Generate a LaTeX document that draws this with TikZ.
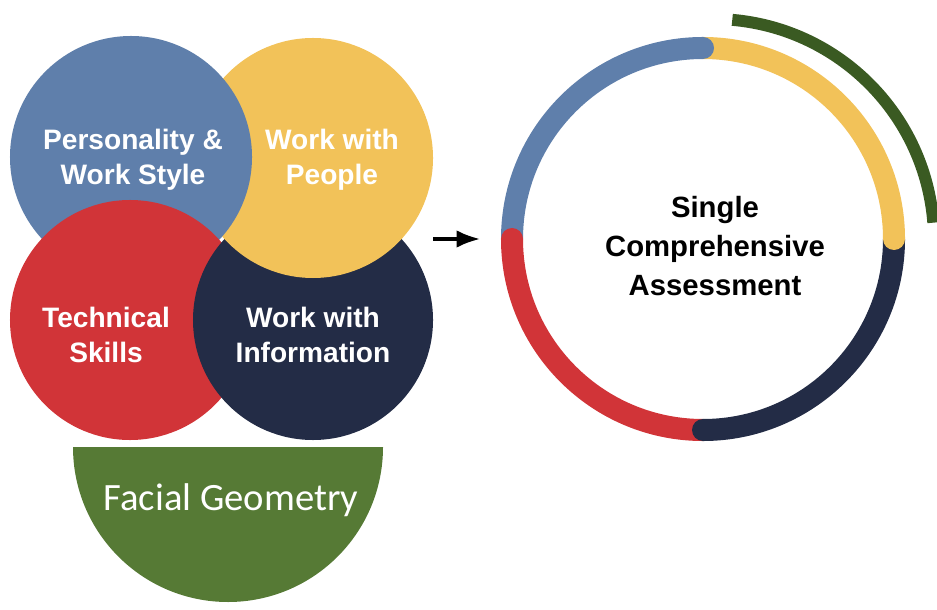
\documentclass[tikz,border=0pt]{standalone}
\usepackage{fontspec}
\usepackage{tikz}
\usepackage{xcolor}
\usetikzlibrary{arrows.meta}
\setmainfont{Liberation Sans}
\newfontfamily\calibri{Carlito}

\definecolor{persblue}{HTML}{5F7FAB}
\definecolor{peopleyellow}{HTML}{F2C259}
\definecolor{techred}{HTML}{D13438}
\definecolor{infonavy}{HTML}{232C46}
\definecolor{facegreen}{HTML}{567A35}
\definecolor{arcgreen}{HTML}{3A5A22}

\begin{document}
\begin{tikzpicture}[x=0.03cm, y=0.03cm,
  disc/.style={circle, minimum size=7.2cm, inner sep=0pt},
  disctext/.style={white, font=\bfseries\fontsize{24}{30}\selectfont, align=center},
  ringseg/.style={line width=18.8pt, line cap=butt},
  flowarrow/.style={line width=2.6pt, -{Latex[length=20pt, width=15pt]}}]
\useasboundingbox (0,0) rectangle (937,609);

% four overlapping areas
\node[disc, fill=peopleyellow] (people) at (313,451) {};
\node[disc, fill=persblue, minimum size=7.26cm] (pers) at (131,452) {};
\node[disc, fill=techred] (tech) at (130,289) {};
\node[disc, fill=infonavy] (info) at (313,289) {};
\begin{scope}
  \clip (info) circle (122);
  \fill[peopleyellow] (people) circle (120);
\end{scope}

\node[disctext] (perstext) at (133,449) {Personality \&\\Work Style};
\node[disctext] (peopletext) at (332,449) {Work with\\People};
\node[disctext] (techtext) at (106,274) {Technical\\Skills};
\node[disctext] (infotext) at (313,274) {Work with\\Information};

% half disc below
\coordinate (facetop) at (228,162);
\fill[facegreen] (facetop) ++(-155,0) arc[start angle=180, end angle=360, radius=155] -- cycle;
\node[white, font=\calibri\fontsize{33}{39}\selectfont] (face) at (231,109) {Facial Geometry};

% arrow
\coordinate (arrfrom) at (433,370);
\coordinate (arrto) at (480,370);
\draw[flowarrow] (arrfrom) -- (arrto);

% ring
\coordinate (ring) at (703,370);
\foreach \col/\a/\b in {persblue/180/90, peopleyellow/90/0, infonavy/0/-90, techred/-90/-180}
  \draw[ringseg, \col] (ring) ++(\a:191) arc[start angle=\a, end angle=\b, radius=191];
\foreach \col/\b in {persblue/90, peopleyellow/0, infonavy/-90, techred/-180}
  \fill[\col] (ring) ++(\b:191) circle (11);
\node[font=\bfseries\fontsize{25}{33}\selectfont, align=center] (summary) at (715,363)
  {Single\\Comprehensive\\Assessment};

% outer arc
\coordinate (outer) at (713,369);
\draw[arcgreen, line width=10.2pt] (outer) ++(85:221) arc[start angle=85, end angle=4.5, radius=221];
\end{tikzpicture}
\end{document}
